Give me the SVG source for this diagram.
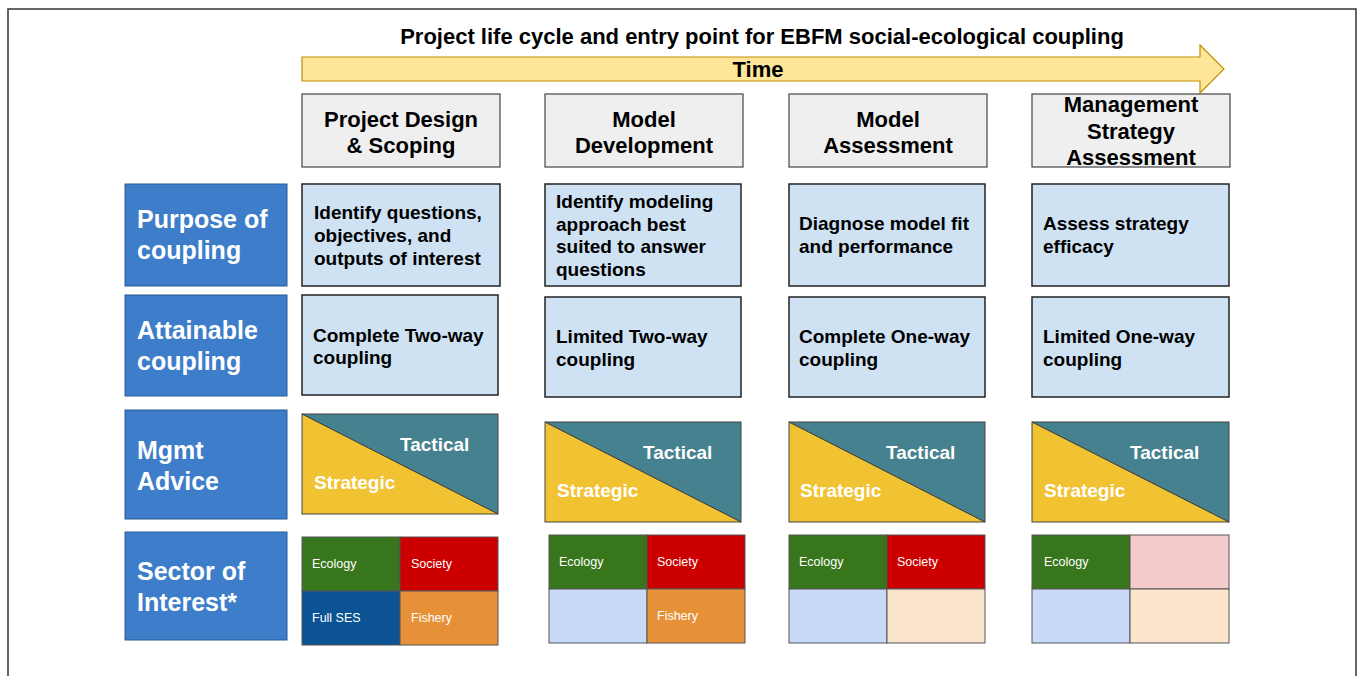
<svg xmlns="http://www.w3.org/2000/svg" width="1358" height="676" viewBox="0 0 1358 676">
<style>
text{font-family:"Liberation Sans",Arial,sans-serif;font-weight:bold}
.h{font-size:22px;fill:#000;text-anchor:middle}
.lab{fill:#3d7dca;stroke:#2a5a94;stroke-width:1}
.lt{font-size:25px;fill:#fff}
.box{fill:#cfe2f3;stroke:#222;stroke-width:1.5}
.hdr{fill:#efefef;stroke:#444;stroke-width:1.2}
.bt{font-size:19px;fill:#000}
.str{fill:#f1c232}
.tac{fill:#45818e}
.mw{font-size:19px;fill:#fff}
.sw{font-size:12.5px;fill:#fff;font-weight:normal}
.cell{stroke:#555;stroke-width:1}
</style>
<rect x="8" y="9" width="1348" height="680" fill="#fff" stroke="#333" stroke-width="1.5"/>
<g id="title">
<text x="762" y="44" class="h">Project life cycle and entry point for EBFM social-ecological coupling</text>
</g>
<g id="time-arrow">
<polygon points="302,57 1200,57 1200,45 1224,69 1200,93 1200,81 302,81" fill="#ffe599" stroke="#bf9000" stroke-width="1.2"/>
<text x="758" y="77" class="h">Time</text>
</g>
<g id="hdr1"><rect x="302" y="94" width="198" height="73" class="hdr"/><text x="401" y="127" class="h">Project Design</text><text x="401" y="153" class="h">&amp; Scoping</text></g>
<g id="hdr2"><rect x="545" y="94" width="198" height="73" class="hdr"/><text x="644" y="127" class="h">Model</text><text x="644" y="153" class="h">Development</text></g>
<g id="hdr3"><rect x="789" y="94" width="198" height="73" class="hdr"/><text x="888" y="127" class="h">Model</text><text x="888" y="153" class="h">Assessment</text></g>
<g id="hdr4"><rect x="1032" y="94" width="198" height="73" class="hdr"/><text x="1131" y="112" class="h">Management</text><text x="1131" y="139" class="h">Strategy</text><text x="1131" y="165" class="h">Assessment</text></g>

<g id="lab-purpose"><rect x="125" y="184" width="162" height="102" class="lab"/><text x="137" y="228" class="lt">Purpose of</text><text x="137" y="259" class="lt">coupling</text></g>
<g id="lab-attain"><rect x="125" y="295" width="162" height="101" class="lab"/><text x="137" y="339" class="lt">Attainable</text><text x="137" y="370" class="lt">coupling</text></g>
<g id="lab-mgmt"><rect x="125" y="410" width="162" height="109" class="lab"/><text x="137" y="459" class="lt">Mgmt</text><text x="137" y="490" class="lt">Advice</text></g>
<g id="lab-sector"><rect x="125" y="532" width="162" height="108" class="lab"/><text x="137" y="580" class="lt">Sector of</text><text x="137" y="611" class="lt">Interest*</text></g>

<g id="purpose1"><rect x="302" y="184" width="198" height="102" class="box"/><text x="314" y="219" class="bt">Identify questions,</text><text x="314" y="242" class="bt">objectives, and</text><text x="314" y="265" class="bt">outputs of interest</text></g>
<g id="purpose2"><rect x="545" y="184" width="196" height="102" class="box"/><text x="556" y="208" class="bt">Identify modeling</text><text x="556" y="231" class="bt">approach best</text><text x="556" y="253" class="bt">suited to answer</text><text x="556" y="276" class="bt">questions</text></g>
<g id="purpose3"><rect x="789" y="184" width="196" height="102" class="box"/><text x="799" y="230" class="bt">Diagnose model fit</text><text x="799" y="253" class="bt">and performance</text></g>
<g id="purpose4"><rect x="1032" y="184" width="197" height="102" class="box"/><text x="1043" y="230" class="bt">Assess strategy</text><text x="1043" y="253" class="bt">efficacy</text></g>

<g id="attain1"><rect x="302" y="295" width="196" height="100" class="box"/><text x="313" y="342" class="bt">Complete Two-way</text><text x="313" y="364" class="bt">coupling</text></g>
<g id="attain2"><rect x="545" y="297" width="196" height="100" class="box"/><text x="556" y="343" class="bt">Limited Two-way</text><text x="556" y="366" class="bt">coupling</text></g>
<g id="attain3"><rect x="789" y="297" width="196" height="100" class="box"/><text x="799" y="343" class="bt">Complete One-way</text><text x="799" y="366" class="bt">coupling</text></g>
<g id="attain4"><rect x="1032" y="297" width="197" height="100" class="box"/><text x="1043" y="343" class="bt">Limited One-way</text><text x="1043" y="366" class="bt">coupling</text></g>

<g id="mgmt1"><polygon points="302,414 498,414 498,514" class="tac"/><polygon points="302,414 498,514 302,514" class="str"/><rect x="302" y="414" width="196" height="100" fill="none" stroke="#444"/><line x1="302" y1="414" x2="498" y2="514" stroke="#333"/><text x="400" y="451" class="mw">Tactical</text><text x="314" y="489" class="mw">Strategic</text></g>
<g id="mgmt2"><polygon points="545,422 741,422 741,522" class="tac"/><polygon points="545,422 741,522 545,522" class="str"/><rect x="545" y="422" width="196" height="100" fill="none" stroke="#444"/><line x1="545" y1="422" x2="741" y2="522" stroke="#333"/><text x="643" y="459" class="mw">Tactical</text><text x="557" y="497" class="mw">Strategic</text></g>
<g id="mgmt3"><polygon points="789,422 985,422 985,522" class="tac"/><polygon points="789,422 985,522 789,522" class="str"/><rect x="789" y="422" width="196" height="100" fill="none" stroke="#444"/><line x1="789" y1="422" x2="985" y2="522" stroke="#333"/><text x="886" y="459" class="mw">Tactical</text><text x="800" y="497" class="mw">Strategic</text></g>
<g id="mgmt4"><polygon points="1032,422 1229,422 1229,522" class="tac"/><polygon points="1032,422 1229,522 1032,522" class="str"/><rect x="1032" y="422" width="197" height="100" fill="none" stroke="#444"/><line x1="1032" y1="422" x2="1229" y2="522" stroke="#333"/><text x="1130" y="459" class="mw">Tactical</text><text x="1044" y="497" class="mw">Strategic</text></g>

<g id="sector1">
<rect x="302" y="537" width="98" height="54" fill="#38761d" class="cell"/><rect x="400" y="537" width="98" height="54" fill="#cc0000" class="cell"/>
<rect x="302" y="591" width="98" height="54" fill="#0b5394" class="cell"/><rect x="400" y="591" width="98" height="54" fill="#e69138" class="cell"/>
<text x="312" y="568" class="sw">Ecology</text><text x="411" y="568" class="sw">Society</text><text x="312" y="622" class="sw">Full SES</text><text x="411" y="622" class="sw">Fishery</text>
</g>
<g id="sector2">
<rect x="549" y="535" width="98" height="54" fill="#38761d" class="cell"/><rect x="647" y="535" width="98" height="54" fill="#cc0000" class="cell"/>
<rect x="549" y="589" width="98" height="54" fill="#c9daf8" class="cell"/><rect x="647" y="589" width="98" height="54" fill="#e69138" class="cell"/>
<text x="559" y="566" class="sw">Ecology</text><text x="657" y="566" class="sw">Society</text><text x="657" y="620" class="sw">Fishery</text>
</g>
<g id="sector3">
<rect x="789" y="535" width="98" height="54" fill="#38761d" class="cell"/><rect x="887" y="535" width="98" height="54" fill="#cc0000" class="cell"/>
<rect x="789" y="589" width="98" height="54" fill="#c9daf8" class="cell"/><rect x="887" y="589" width="98" height="54" fill="#fce5cd" class="cell"/>
<text x="799" y="566" class="sw">Ecology</text><text x="897" y="566" class="sw">Society</text>
</g>
<g id="sector4">
<rect x="1032" y="535" width="98" height="54" fill="#38761d" class="cell"/><rect x="1130" y="535" width="99" height="54" fill="#f4cccc" class="cell"/>
<rect x="1032" y="589" width="98" height="54" fill="#c9daf8" class="cell"/><rect x="1130" y="589" width="99" height="54" fill="#fce5cd" class="cell"/>
<text x="1044" y="566" class="sw">Ecology</text>
</g>
<g id="connectors"/>
</svg>
